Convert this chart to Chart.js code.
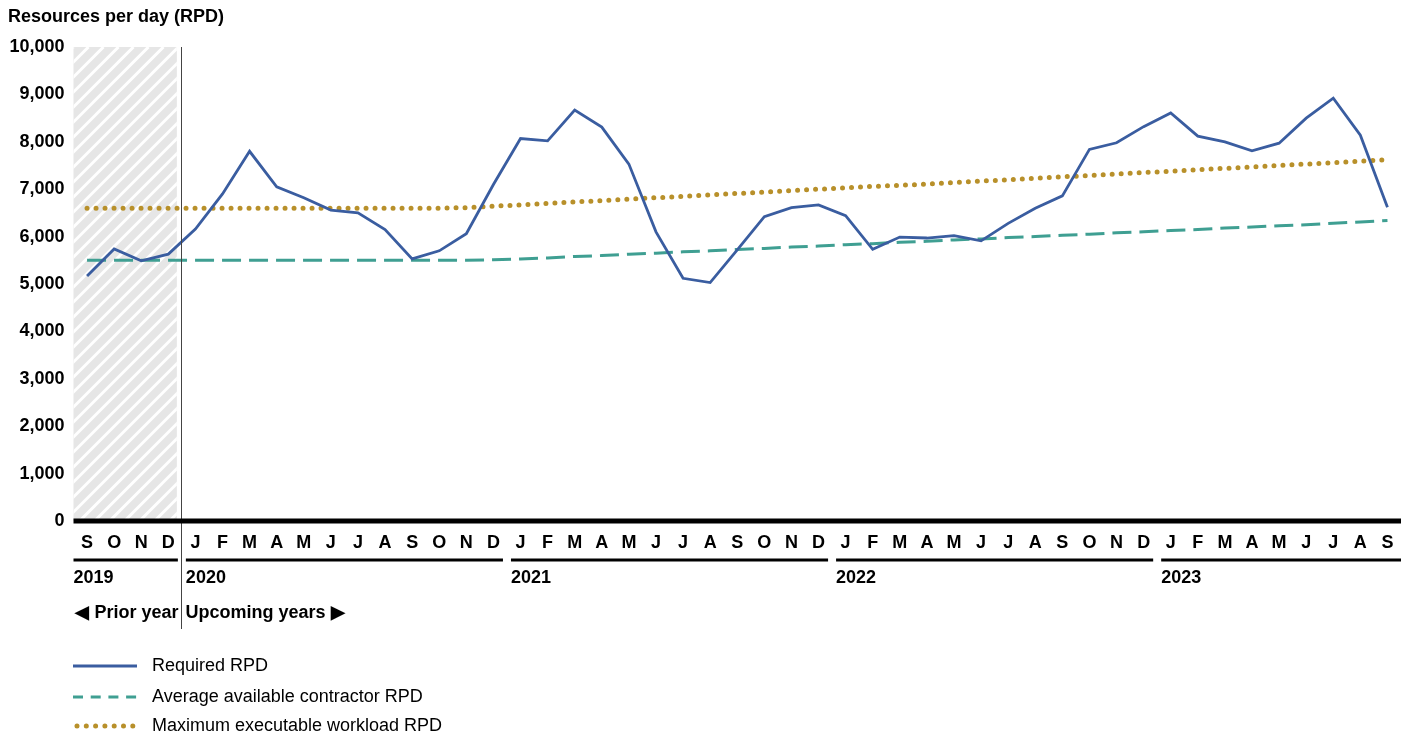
<!DOCTYPE html>
<html>
<head>
<meta charset="utf-8">
<script src="https://cdn.jsdelivr.net/npm/chart.js@4"></script>
<style>
  body { margin: 0; background: #fff; }
  #wrap { width: 1411px; height: 736px; position: relative; }
</style>
</head>
<body>
<div id="wrap"><canvas id="rpdChart"></canvas></div>
<script>
// Month letters, Sep 2019 .. Sep 2023
const months = [
  'S', 'O', 'N', 'D',
  'J', 'F', 'M', 'A', 'M', 'J', 'J', 'A', 'S', 'O', 'N', 'D',
  'J', 'F', 'M', 'A', 'M', 'J', 'J', 'A', 'S', 'O', 'N', 'D',
  'J', 'F', 'M', 'A', 'M', 'J', 'J', 'A', 'S', 'O', 'N', 'D',
  'J', 'F', 'M', 'A', 'M', 'J', 'J', 'A', 'S'
];
const years = ['2019', '2020', '2021', '2022', '2023'];
const monthsInYear = [4, 12, 12, 12, 9];
const yTicks = [0, 1000, 2000, 3000, 4000, 5000, 6000, 7000, 8000, 9000, 10000];

const requiredRPD = [
  5170, 5740, 5490, 5630,
  6160, 6900, 7800, 7050, 6820, 6560, 6500, 6150, 5530, 5700, 6060, 7100,
  8070, 8020, 8670, 8310, 7530, 6100, 5120, 5030, 5720, 6420, 6610, 6670,
  6440, 5730, 5990, 5970, 6020, 5910, 6280, 6600, 6860, 7840, 7980, 8320,
  8610, 8120, 8000, 7810, 7970, 8500, 8920, 8140, 6620
];
const contractorRPD = [
  5500, 5500, 5500, 5500,
  5500, 5500, 5500, 5500, 5500, 5500, 5500, 5500, 5500, 5500, 5500, 5510,
  5530, 5550, 5580, 5600, 5630, 5650, 5680, 5700, 5730, 5750, 5780, 5800,
  5830, 5850, 5880, 5900, 5930, 5950, 5980, 6000, 6030, 6050, 6080, 6100,
  6130, 6150, 6180, 6200, 6230, 6250, 6280, 6310, 6340
];
const maxWorkloadRPD = [
  6600, 6600, 6600, 6600,
  6600, 6600, 6600, 6600, 6600, 6600, 6600, 6600, 6600, 6600, 6610, 6640,
  6670, 6700, 6730, 6760, 6790, 6820, 6850, 6880, 6910, 6940, 6970, 7000,
  7030, 7060, 7080, 7110, 7140, 7170, 7200, 7230, 7260, 7290, 7320, 7350,
  7380, 7410, 7440, 7470, 7500, 7530, 7560, 7590, 7620
];

const BLUE = '#3a5da0';
const TEAL = '#3f9f92';
const GOLD = '#b8902a';
const FONT = '"Liberation Sans", Arial, sans-serif';

// hatched "prior year" band, drawn under the lines
const hatchPlugin = {
  id: 'hatch',
  beforeDatasetsDraw(chart) {
    const { ctx, chartArea, scales } = chart;
    const x0 = chartArea.left;
    const x1 = (scales.x.getPixelForValue(3) + scales.x.getPixelForValue(4)) / 2 - 5;
    const top = chartArea.top, bottom = chartArea.bottom;
    ctx.save();
    ctx.fillStyle = '#e6e6e6';
    ctx.fillRect(x0, top, x1 - x0, bottom - top);
    ctx.beginPath();
    ctx.rect(x0, top, x1 - x0, bottom - top);
    ctx.clip();
    ctx.strokeStyle = '#ffffff';
    ctx.lineWidth = 3;
    const h = bottom - top;
    for (let s = x0 - h; s < x1 + 20; s += 15) {
      ctx.beginPath();
      ctx.moveTo(s, bottom);
      ctx.lineTo(s + h, top);
      ctx.stroke();
    }
    ctx.restore();
  }
};

// axis decorations, year bands, title and legend
const decoPlugin = {
  id: 'deco',
  afterDraw(chart) {
    const { ctx, chartArea, scales } = chart;
    const x = scales.x;
    const half = (x.getPixelForValue(1) - x.getPixelForValue(0)) / 2;
    ctx.save();

    // separator between prior and upcoming years
    const sepX = Math.round((x.getPixelForValue(3) + x.getPixelForValue(4)) / 2) - 0.5;
    ctx.strokeStyle = '#444';
    ctx.lineWidth = 1;
    ctx.beginPath();
    ctx.moveTo(sepX, chartArea.top);
    ctx.lineTo(sepX, 629);
    ctx.stroke();

    // zero line
    ctx.strokeStyle = '#000';
    ctx.lineWidth = 5;
    ctx.beginPath();
    ctx.moveTo(chartArea.left, scales.y.getPixelForValue(0));
    ctx.lineTo(chartArea.right, scales.y.getPixelForValue(0));
    ctx.stroke();

    // year underlines and labels
    let start = 0;
    ctx.font = 'bold 18px ' + FONT;
    ctx.fillStyle = '#000';
    ctx.textBaseline = 'middle';
    ctx.textAlign = 'left';
    years.forEach((yr, i) => {
      const end = start + monthsInYear[i] - 1;
      let a = x.getPixelForValue(start) - half;
      let b = x.getPixelForValue(end) + half;
      if (i > 0) a += 4;
      if (i < years.length - 1) b -= 4;
      ctx.lineWidth = 3;
      ctx.beginPath();
      ctx.moveTo(a, 560);
      ctx.lineTo(b, 560);
      ctx.stroke();
      ctx.fillText(yr, a, 578);
      start = end + 1;
    });

    ctx.font = 'bold 18px ' + FONT;
    ctx.textAlign = 'right';
    ctx.fillText('\u25C0 Prior year', sepX - 3, 613);
    ctx.textAlign = 'left';
    ctx.fillText('Upcoming years \u25B6', sepX + 4, 613);

    // title
    ctx.fillText('Resources per day (RPD)', 8, 17);

    // legend
    const items = chart.data.datasets;
    const rows = [666, 697, 726];
    ctx.font = '18px ' + FONT;
    items.forEach((ds, i) => {
      ctx.save();
      ctx.strokeStyle = ds.borderColor;
      ctx.lineWidth = i === 2 ? 5 : 3;
      ctx.lineCap = i === 2 ? 'round' : 'butt';
      if (i === 1) ctx.setLineDash([10, 7.7]);
      if (i === 2) ctx.setLineDash([0, 9.3]);
      ctx.beginPath();
      ctx.moveTo(i === 2 ? 77 : 73, rows[i]);
      ctx.lineTo(137, rows[i]);
      ctx.stroke();
      ctx.restore();
      ctx.fillStyle = '#000';
      ctx.fillText(ds.label, 152, rows[i]);
    });
    ctx.restore();
  }
};

new Chart(document.getElementById('rpdChart'), {
  type: 'line',
  data: {
    labels: months,
    datasets: [
      {
        label: 'Required RPD',
        data: requiredRPD,
        borderColor: BLUE,
        borderWidth: 2.8,
        pointRadius: 0,
        tension: 0
      },
      {
        label: 'Average available contractor RPD',
        data: contractorRPD,
        borderColor: TEAL,
        borderWidth: 3,
        borderDash: [19, 8],
        pointRadius: 0,
        tension: 0
      },
      {
        label: 'Maximum executable workload RPD',
        data: maxWorkloadRPD,
        borderColor: GOLD,
        borderWidth: 5,
        borderDash: [0, 9],
        borderCapStyle: 'round',
        pointRadius: 0,
        tension: 0
      }
    ]
  },
  options: {
    responsive: true,
    maintainAspectRatio: false,
    animation: false,
    layout: { padding: { top: 47, right: 10, left: 0, bottom: 0 } },
    plugins: {
      legend: { display: false },
      tooltip: { enabled: false }
    },
    scales: {
      x: {
        offset: true,
        grid: { display: false, drawTicks: false },
        border: { display: false },
        ticks: {
          autoSkip: false,
          maxRotation: 0,
          padding: 11,
          color: '#000',
          font: { family: FONT, size: 18, weight: 'bold' }
        },
        afterFit(s) { s.height = 215; s.paddingLeft = 0; s.paddingRight = 0; }
      },
      y: {
        min: 0,
        max: 10000,
        afterBuildTicks(s) { s.ticks = yTicks.map(v => ({ value: v })); },
        grid: { display: false, drawTicks: false },
        border: { display: false },
        ticks: {
          padding: 9,
          color: '#000',
          font: { family: FONT, size: 18, weight: 'bold' },
          callback: v => v.toLocaleString('en-US')
        },
        afterFit(s) { s.width = 73.5; s.paddingTop = 0; s.paddingBottom = 0; }
      }
    }
  },
  plugins: [hatchPlugin, decoPlugin]
});
</script>
</body>
</html>
